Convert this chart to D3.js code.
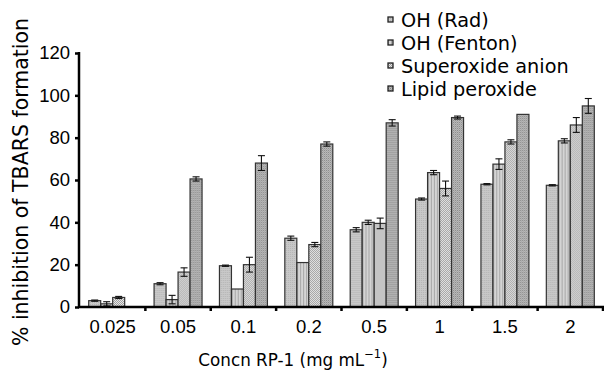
<!DOCTYPE html>
<html>
<head>
<meta charset="utf-8">
<script src="https://cdn.jsdelivr.net/npm/d3@7"></script>
<style>
  html, body { margin: 0; padding: 0; background: #fff; }
  svg { display: block; font-family: "DejaVu Sans", sans-serif; }
</style>
</head>
<body>
<div id="chart"></div>
<script>
"use strict";
// concentrations (mg/mL) and % inhibition per assay
const categories = ["0.025", "0.05", "0.1", "0.2", "0.5", "1", "1.5", "2"];
const seriesNames = ["OH (Rad)", "OH (Fenton)", "Superoxide anion", "Lipid peroxide"];
const ohRad = [3, 11, 19.5, 32.5, 36.5, 51, 58, 57.5];
const ohRadErr = [0.3, 0.5, 0.3, 1, 1, 0.5, 0.3, 0.3];
const ohFenton = [1.5, 3.5, 8.5, 21, 40, 63.5, 67.5, 78.5];
const ohFentonErr = [1, 2, 0, 0, 1, 1, 2.5, 1];
const superoxide = [4.5, 16.5, 20, 29.5, 39.5, 56, 78, 86];
const superoxideErr = [0.5, 2, 3.5, 1, 2.5, 3.5, 1, 3.5];
const lipid = [0, 60.5, 68, 77, 87, 89.5, 91, 95];
const lipidErr = [0, 1, 3.5, 1, 1.5, 0.7, 0, 3.5];
const yTicks = [0, 20, 40, 60, 80, 100, 120];

const W = 604, H = 372;
const series = [
  { key: "rad", vals: ohRad, err: ohRadErr },
  { key: "fenton", vals: ohFenton, err: ohFentonErr },
  { key: "super", vals: superoxide, err: superoxideErr },
  { key: "lipid", vals: lipid, err: lipidErr }
];

const svg = d3.select("#chart").append("svg").attr("width", W).attr("height", H);
const defs = svg.append("defs");

// grey fill textures, one per assay
function pat(id, size, bg, dots) {
  const p = defs.append("pattern").attr("id", id).attr("patternUnits", "userSpaceOnUse")
    .attr("width", size[0]).attr("height", size[1]);
  p.append("rect").attr("width", size[0]).attr("height", size[1]).attr("fill", bg);
  dots.forEach((d) => p.append("rect").attr("x", d[0]).attr("y", d[1])
    .attr("width", d[2]).attr("height", d[3]).attr("fill", d[4]));
}
pat("p-rad", [2, 2], "#c8c8c8", [[0, 0, 1, 1, "#b4b4b4"]]);
pat("p-fenton", [3, 1], "#d4d4d4", [[0, 0, 1, 1, "#a6a6a6"]]);
pat("p-super", [2, 2], "#e8e8e8", [[0, 0, 1, 1, "#a0a0a0"], [1, 1, 1, 1, "#a0a0a0"]]);
pat("p-lipid", [2, 2], "#bdbdbd", [[0, 0, 1, 1, "#878787"], [1, 1, 1, 1, "#a4a4a4"]]);

const x = d3.scaleBand().domain(categories).range([80, 603]).padding(0);
const xs = d3.scaleBand().domain(series.map((s) => s.key))
  .range([8.7, x.bandwidth() - 8.7]).padding(0);
const y = d3.scaleLinear().domain([0, 120]).range([307, 53]);

// bars
const groups = svg.append("g").selectAll("g").data(categories).join("g")
  .attr("transform", (c) => `translate(${x(c)},0)`);

groups.each(function (c, i) {
  const g = d3.select(this);
  series.forEach((s) => {
    const v = s.vals[i];
    if (!v) return;
    const bx = xs(s.key), bw = xs.bandwidth();
    g.append("rect").attr("x", bx).attr("y", y(v)).attr("width", bw)
      .attr("height", y(0) - y(v)).attr("fill", `url(#p-${s.key})`)
      .attr("stroke", "#333").attr("stroke-width", 1.2);
    const e = s.err[i];
    if (e > 0) {
      const cx = bx + bw / 2;
      const eb = g.append("g").attr("stroke", "#111").attr("stroke-width", 1.1);
      eb.append("line").attr("x1", cx).attr("x2", cx).attr("y1", y(v - e)).attr("y2", y(v + e));
      [v - e, v + e].forEach((t) => eb.append("line")
        .attr("x1", cx - 3.5).attr("x2", cx + 3.5).attr("y1", y(t)).attr("y2", y(t)));
    }
  });
});

// y axis
const yAxis = svg.append("g").attr("transform", "translate(79,0)")
  .call(d3.axisLeft(y).tickValues(yTicks).tickSize(4).tickPadding(5));
yAxis.select(".domain").attr("stroke", "#000").attr("stroke-width", 2.5)
  .attr("d", `M0,${y(120) - 1}V${y(0) + 1}`);
yAxis.selectAll(".tick line").attr("stroke", "#000").attr("stroke-width", 2.5);
yAxis.selectAll(".tick text").attr("font-size", 18.5).attr("fill", "#000");

// x axis
const xAxis = svg.append("g").attr("transform", `translate(0,${y(0)})`)
  .call(d3.axisBottom(x).tickSize(0).tickPadding(13));
xAxis.select(".domain").attr("stroke", "#000").attr("stroke-width", 2.5)
  .attr("d", "M78,0H604");
xAxis.selectAll(".tick text").attr("font-size", 18.5).attr("fill", "#000");
// small tick marks at the band boundaries
svg.append("g").selectAll("line").data(categories).join("line")
  .attr("x1", (c) => x(c) + x.bandwidth()).attr("x2", (c) => x(c) + x.bandwidth())
  .attr("y1", y(0)).attr("y2", y(0) + 4)
  .attr("stroke", "#000").attr("stroke-width", 2.5);

// axis titles
const xt = svg.append("text").attr("x", 293).attr("y", 366).attr("text-anchor", "middle")
  .attr("font-size", 16.8).attr("fill", "#000");
xt.append("tspan").text("Concn RP-1 (mg mL");
xt.append("tspan").attr("font-size", 11.5).attr("dy", -8).text("\u22121");
xt.append("tspan").attr("dy", 8).text(")");

svg.append("text").attr("transform", "translate(28,182) rotate(-90)")
  .attr("text-anchor", "middle").attr("font-size", 20.5).attr("fill", "#000")
  .text("% inhibition of TBARS formation");

// legend
const leg = svg.append("g").attr("transform", "translate(388,0)");
series.forEach((s, i) => {
  const yy = 27 + i * 23;
  leg.append("rect").attr("x", 0).attr("y", yy - 10).attr("width", 5).attr("height", 5)
    .attr("fill", `url(#p-${s.key})`).attr("stroke", "#222").attr("stroke-width", 1.3);
  leg.append("text").attr("x", 13).attr("y", yy).attr("font-size", 19.3).attr("fill", "#000")
    .text(seriesNames[i]);
});
</script>
</body>
</html>
